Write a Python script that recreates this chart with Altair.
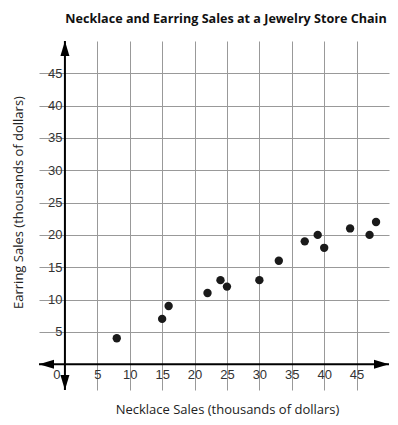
import altair as alt
import pandas as pd

# Data
necklace = [8, 15, 16, 22, 24, 25, 30, 33, 37, 39, 40, 44, 47, 48]
earring = [4, 7, 9, 11, 13, 12, 13, 16, 19, 20, 18, 21, 20, 22]
tick_values = [5, 10, 15, 20, 25, 30, 35, 40, 45]
dom_min, dom_max = -4, 50

pts = pd.DataFrame({"x": necklace, "y": earring})

xscale = alt.Scale(domain=[dom_min, dom_max], nice=False, zero=False)
yscale = alt.Scale(domain=[dom_min, dom_max], nice=False, zero=False)

label_font = "Liberation Sans"
title_font = "Open Sans"

x_axis = alt.Axis(
    values=tick_values, grid=True, gridColor="#999999", gridWidth=1,
    ticks=False, domain=False, offset=-26,
    labelFont=label_font, labelFontSize=13, labelColor="#333333", labelPadding=4,
    title="Necklace Sales (thousands of dollars)",
    titleFont=title_font, titleFontSize=13, titleFontWeight="normal", titleColor="#222222",
    titleX=188, titleY=45, titleBaseline="middle", titleAlign="center",
)
y_axis = alt.Axis(
    values=tick_values, grid=True, gridColor="#999999", gridWidth=1,
    ticks=False, domain=False, offset=-26,
    labelFont=label_font, labelFontSize=13, labelColor="#333333", labelPadding=3,
    title="Earring Sales (thousands of dollars)",
    titleFont=title_font, titleFontSize=13, titleFontWeight="normal", titleColor="#222222",
    titleX=-47, titleY=161, titleAngle=270, titleBaseline="middle", titleAlign="center",
)

X = lambda f: alt.X(f, scale=xscale, axis=x_axis)
Y = lambda f: alt.Y(f, scale=yscale, axis=y_axis)

points = alt.Chart(pts).mark_circle(size=70, color="#1a1a1a", opacity=1).encode(
    x=X("x:Q"), y=Y("y:Q"),
)

axes_df = pd.DataFrame({
    "x": [dom_min, 0], "x2": [dom_max, 0],
    "y": [0, dom_min], "y2": [0, dom_max],
})
axis_lines = alt.Chart(axes_df).mark_rule(color="black", strokeWidth=2).encode(
    x=X("x:Q"), x2="x2:Q", y=Y("y:Q"), y2="y2:Q",
)

arrows_df = pd.DataFrame({
    "x": [0, 0, dom_min, dom_max],
    "y": [dom_max, dom_min, 0, 0],
    "a": [0, 180, 270, 90],
})
arrows = alt.Chart(arrows_df).mark_point(
    shape="M0,0L0.6,2L-0.6,2Z", size=225, filled=True, color="black", opacity=1
).encode(
    x=X("x:Q"), y=Y("y:Q"),
    angle=alt.Angle("a:Q", scale=None),
)

zero_df = pd.DataFrame({"x": [0], "y": [0], "t": ["0"]})
zero_label = alt.Chart(zero_df).mark_text(
    font=label_font, fontSize=13, color="#333333", dx=-8, dy=11, baseline="middle"
).encode(
    x=X("x:Q"), y=Y("y:Q"), text="t:N",
)

chart = alt.layer(points, axis_lines, arrows, zero_label).properties(
    width=350, height=349,
    autosize=alt.AutoSizeParams(type="none"),
    padding={"left": 31, "top": 33, "right": 1, "bottom": 27},
    title=alt.TitleParams(
        "Necklace and Earring Sales at a Jewelry Store Chain",
        font=title_font, fontSize=12.6, fontWeight="bold", color="#111111",
        anchor="middle", dx=12, offset=14,
    ),
).configure_view(stroke=None)

chart.save("out.html", embed_options={"renderer": "svg", "actions": False})
